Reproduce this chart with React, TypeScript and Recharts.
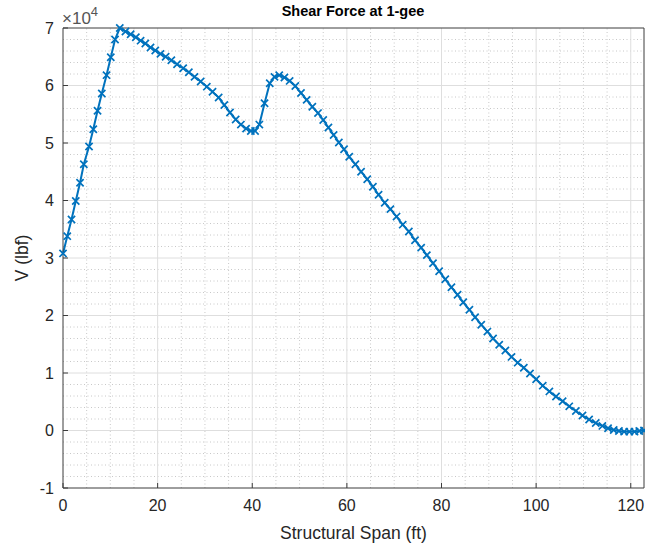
import { LineChart, Line, XAxis, YAxis, ReferenceLine } from 'recharts';

// span stations (ft) and shear (lbf)
const spanFt = [
  0, 0.9, 1.8, 2.7, 3.6, 4.4, 5.5, 6.4, 7.3, 8.2, 9.2, 10.1, 11.0, 12.0,
  13.2, 14.3, 15.4, 16.4, 17.4, 18.5, 19.5, 20.6, 21.7, 22.9, 24.1, 25.4, 26.6, 27.8, 29.1, 30.4,
  31.6, 32.9, 34.1, 35.3, 36.5, 37.6, 38.7, 39.7, 40.6, 41.5, 42.6, 43.7, 44.7, 45.7, 46.8, 47.9,
  49.1, 50.3, 51.5, 52.7, 53.9, 55.0, 56.1, 57.2, 58.3, 59.4, 60.5, 61.8, 63.0, 64.3, 65.5, 66.7,
  68.0, 69.2, 70.5, 71.8, 73.1, 74.4, 75.7, 76.9, 78.2, 79.5, 80.8, 82.1, 83.4, 84.6, 85.9, 87.1,
  88.4, 89.7, 90.9, 92.2, 93.5, 94.8, 96.1, 97.4, 98.7, 100.0, 101.4, 102.8, 104.2, 105.6, 107.0,
  108.4, 109.8, 111.2, 112.6, 114.0, 115.2, 116.4, 117.5, 118.6, 119.7, 120.8, 121.8, 122.8,
];
const shearLbf = [
  30800, 33800, 36700, 39900, 43100, 46300, 49400, 52400, 55600, 58600, 61800, 64900, 68000, 70000,
  69400, 68900, 68400, 67800, 67300, 66600, 66100, 65500, 65000, 64400, 63700, 63000, 62300, 61500, 60700, 59800,
  58900, 57900, 56600, 55300, 54100, 53200, 52500, 52100, 52100, 53200, 56900, 60400, 61500, 61800, 61400, 60800,
  59900, 58700, 57500, 56300, 55200, 54000, 52700, 51400, 50100, 48900, 47600, 46300, 45000, 43700, 42400, 41000,
  39600, 38500, 37200, 35800, 34600, 33100, 31800, 30500, 29100, 27700, 26300, 24900, 23600, 22300, 21000, 19700,
  18400, 17200, 16000, 14900, 13900, 12800, 11800, 10900, 9900, 8900, 7800, 6800, 5900, 5100, 4200,
  3400, 2600, 1900, 1300, 800, 400, 100, -100, -200, -200, -200, -100, 0,
];
const xTicks = [0, 20, 40, 60, 80, 100, 120];
const yTicks = [-10000, 0, 10000, 20000, 30000, 40000, 50000, 60000, 70000];

const data = spanFt.map((x, i) => ({ x, v: shearLbf[i] }));

const X_MAX = 122.8;
const minorX: number[] = [];
for (let v = 5; v < X_MAX; v += 5) if (v % 20 !== 0) minorX.push(v);
const minorY: number[] = [];
for (let k = -5; k <= 35; k++) if (k % 5 !== 0) minorY.push(k * 2000);

const TEXT = '#262626';
const AXIS = '#3c3c3c';
const BLUE = '#0072BD';
const FONT = '"Liberation Sans", Arial, sans-serif';

const BottomTick = (props: any) => {
  const { x, y, payload } = props;
  return (
    <g>
      <line x1={x} x2={x} y1={y - 11} y2={y - 16} stroke={AXIS} />
      <text x={x} y={y} dy="0.75em" textAnchor="middle" fill={TEXT} fontSize={16} fontFamily={FONT}>
        {payload.value}
      </text>
    </g>
  );
};

const LeftTick = (props: any) => {
  const { x, y, payload } = props;
  return (
    <g>
      <line x1={x + 9} x2={x + 14} y1={y} y2={y} stroke={AXIS} />
      <text x={x} y={y} dy="0.36em" textAnchor="end" fill={TEXT} fontSize={16} fontFamily={FONT}>
        {payload.value / 10000}
      </text>
    </g>
  );
};

const Cross = (props: any) => {
  const { cx, cy, index } = props;
  if (cx == null || cy == null) return <g key={index} />;
  const s = 3.6;
  return (
    <path
      key={index}
      d={`M${cx - s},${cy - s}L${cx + s},${cy + s}M${cx - s},${cy + s}L${cx + s},${cy - s}`}
      stroke={BLUE}
      strokeWidth={1.7}
      fill="none"
    />
  );
};

export default function App() {
  return (
    <div style={{ position: 'absolute', left: 0, top: 0, background: '#fff' }}>
      <LineChart width={645} height={547} data={data} margin={{ top: 28, right: 1, left: 0, bottom: 0 }}>
        {minorX.map((v) => (
          <ReferenceLine key={`mx${v}`} x={v} stroke="#c8c8c8" strokeDasharray="1 2.5" ifOverflow="visible" />
        ))}
        {minorY.map((v) => (
          <ReferenceLine key={`my${v}`} y={v} stroke="#c8c8c8" strokeDasharray="1 2.5" ifOverflow="visible" />
        ))}
        {xTicks.slice(1).map((v) => (
          <ReferenceLine key={`gx${v}`} x={v} stroke="#dedede" ifOverflow="visible" />
        ))}
        {yTicks.slice(1, -1).map((v) => (
          <ReferenceLine key={`gy${v}`} y={v} stroke="#dedede" ifOverflow="visible" />
        ))}
        <ReferenceLine y={70000} stroke={AXIS} ifOverflow="visible" />
        <ReferenceLine x={X_MAX} stroke={AXIS} ifOverflow="visible" />
        <XAxis
          dataKey="x"
          type="number"
          domain={[0, X_MAX]}
          ticks={xTicks}
          height={59}
          tickSize={0}
          tickMargin={11}
          tick={<BottomTick />}
          stroke={AXIS}
          label={{
            content: (p: any) => (
              <text
                x={p.viewBox.x + p.viewBox.width / 2}
                y={539}
                textAnchor="middle"
                fill={TEXT}
                fontSize={17.5}
                fontFamily={FONT}
              >
                Structural Span (ft)
              </text>
            ),
          }}
        />
        <YAxis
          type="number"
          domain={[-10000, 70000]}
          ticks={yTicks}
          width={63}
          tickSize={0}
          tickMargin={9}
          tick={<LeftTick />}
          stroke={AXIS}
          label={{
            content: (p: any) => {
              const cy = p.viewBox.y + p.viewBox.height / 2;
              return (
                <g>
                  <text
                    x={28}
                    y={cy}
                    transform={`rotate(-90 28 ${cy})`}
                    textAnchor="middle"
                    fill={TEXT}
                    fontSize={17.5}
                    fontFamily={FONT}
                  >
                    V (lbf)
                  </text>
                  <text
                    x={353}
                    y={16}
                    textAnchor="middle"
                    fill="#000"
                    fontSize={14.5}
                    fontWeight="bold"
                    fontFamily={FONT}
                  >
                    Shear Force at 1-gee
                  </text>
                  <text x={62} y={24} fill="#555" fontSize={17} fontFamily={FONT}>
                    ×10
                    <tspan dy={-8} fontSize={13}>4</tspan>
                  </text>
                </g>
              );
            },
          }}
        />
        <Line
          type="linear"
          dataKey="v"
          stroke={BLUE}
          strokeWidth={2}
          dot={Cross}
          activeDot={false}
          isAnimationActive={false}
        />
      </LineChart>
    </div>
  );
}
